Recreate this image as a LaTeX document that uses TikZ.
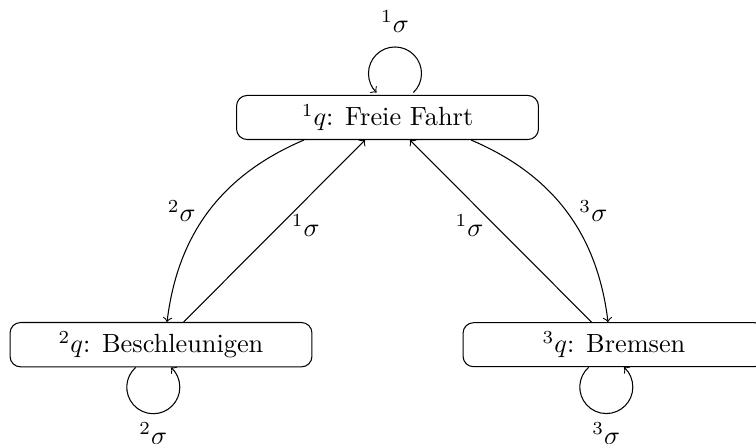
\documentclass[tikz,border=0pt]{standalone}
\usetikzlibrary{calc}
\begin{document}
\begin{tikzpicture}[x=0.38023pt,y=0.38023pt,>=to,
  state/.style={draw, rounded corners=4pt, minimum width=114.8pt, minimum height=16.7pt, inner sep=3.33pt},
  loopr/.style={radius=10.08pt}]
\useasboundingbox (0,0) rectangle (756,444);
\node[state] (n1) at (387.5,326.5) {$^1q$: Freie Fahrt};
\node[state] (n2) at (161,99.3) {$^2q$: Beschleunigen};
\node[state] (n3) at (614,99.3) {$^3q$: Bremsen};
% transitions
\draw[->] (n1) to[bend right=30] node[midway, left=1.5pt] {$^2\sigma$} (n2);
\draw[->] (n2) -- node[midway, anchor=center, xshift=11.9pt, yshift=2pt] {$^1\sigma$} (n1);
\draw[->] (n1) to[bend left=30] node[midway, right=1.5pt] {$^3\sigma$} (n3);
\draw[->] (n3) -- node[midway, anchor=center, xshift=-11.9pt, yshift=2pt] {$^1\sigma$} (n1);
% loops
\draw[->] ($(n1.north)+(25.9,2.4)$) arc[start angle=-46, end angle=90, loopr]
  node[above=2.1pt] {$^1\sigma$} arc[start angle=90, end angle=226, loopr];
\draw[->] ($(n2.south)+(-25.3,0)$) arc[start angle=131.6, end angle=270, loopr]
  node[below] {$^2\sigma$} arc[start angle=270, end angle=408.4, loopr];
\draw[->] ($(n3.south)+(-25.3,0)$) arc[start angle=131.6, end angle=270, loopr]
  node[below] {$^3\sigma$} arc[start angle=270, end angle=408.4, loopr];
\end{tikzpicture}
\end{document}
